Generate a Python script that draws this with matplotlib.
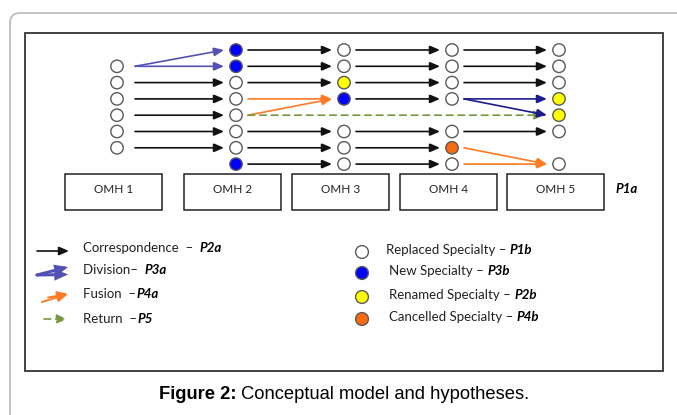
import matplotlib
matplotlib.use('Agg')
import matplotlib.pyplot as plt
from matplotlib.patches import Circle, Rectangle, FancyBboxPatch, FancyArrowPatch

# --- data -------------------------------------------------------------
omh_labels = ['OMH 1', 'OMH 2', 'OMH 3', 'OMH 4', 'OMH 5']

# state of each specialty slot per OMH (row 0 = top), None = empty slot
# R = replaced, N = new, M = renamed, C = cancelled
omh1_nodes = [None, 'R', 'R', 'R', 'R', 'R', 'R', None]
omh2_nodes = ['N', 'N', 'R', 'R', 'R', 'R', 'R', 'N']
omh3_nodes = ['R', 'R', 'M', 'N', None, 'R', 'R', 'R']
omh4_nodes = ['R', 'R', 'R', 'R', None, 'R', 'C', 'R']
omh5_nodes = ['R', 'R', 'R', 'M', 'M', 'R', None, 'R']

# links: (from omh, from row, to omh, to row, kind)
links = [
    (0, 1, 1, 0, 'div'), (0, 1, 1, 1, 'div'),
    (0, 2, 1, 2, 'corr'), (0, 3, 1, 3, 'corr'), (0, 4, 1, 4, 'corr'),
    (0, 5, 1, 5, 'corr'), (0, 6, 1, 6, 'corr'),
    (1, 0, 2, 0, 'corr'), (1, 1, 2, 1, 'corr'), (1, 2, 2, 2, 'corr'),
    (1, 3, 2, 3, 'fus'), (1, 4, 2, 3, 'fus'), (1, 4, 4, 4, 'ret'),
    (1, 5, 2, 5, 'corr'), (1, 6, 2, 6, 'corr'), (1, 7, 2, 7, 'corr'),
    (2, 0, 3, 0, 'corr'), (2, 1, 3, 1, 'corr'), (2, 2, 3, 2, 'corr'),
    (2, 3, 3, 3, 'corr'), (2, 5, 3, 5, 'corr'), (2, 6, 3, 6, 'corr'),
    (2, 7, 3, 7, 'corr'),
    (3, 0, 4, 0, 'corr'), (3, 1, 4, 1, 'corr'), (3, 2, 4, 2, 'corr'),
    (3, 3, 4, 3, 'div2'), (3, 3, 4, 4, 'div2'),
    (3, 5, 4, 5, 'corr'), (3, 6, 4, 7, 'fus'), (3, 7, 4, 7, 'fus'),
]

arrow_legend = ['Correspondence  \u2013  ', 'Division\u2013  ', 'Fusion  \u2013', 'Return  \u2013']
arrow_codes = ['P2a', 'P3a', 'P4a', 'P5']
node_legend = ['Replaced Specialty \u2013 ', 'New Specialty \u2013 ', 'Renamed Specialty \u2013 ',
               'Cancelled Specialty \u2013 ']
node_codes = ['P1b', 'P3b', 'P2b', 'P4b']

# --- style ------------------------------------------------------------
fill = {'R': 'white', 'N': '#0000ff', 'M': '#ffff00', 'C': '#f86a10'}
link_color = {'corr': '#111111', 'div': '#5252b4', 'div2': '#1c1c8c',
              'fus': '#ff7a22', 'ret': '#77963f'}
font = 'Lato'

col_x = [117, 236, 344, 452, 559]
row_y0, row_dy = 50, 16.3

fig = plt.figure(figsize=(6.77, 4.15), dpi=100)
ax = fig.add_axes([0, 0, 1, 1])
ax.set_xlim(0, 677)
ax.set_ylim(415, 0)
ax.axis('off')

# frames
ax.add_patch(FancyBboxPatch((10, 13), 700, 430, boxstyle='round,pad=0,rounding_size=10',
                            fc='none', ec='#b8b8b8', lw=1.2))
ax.add_patch(Rectangle((25, 33), 638, 338, fc='none', ec='#333333', lw=1.3))


def arrow(p, q, color, ls='-', lw=1.2):
    ax.add_patch(FancyArrowPatch(p, q, arrowstyle='-|>,head_length=0.6,head_width=0.26',
                                 mutation_scale=10, color=color, lw=lw, linestyle=ls,
                                 shrinkA=0, shrinkB=0, joinstyle='miter'))


def node(x, y, state, r=6.2):
    ax.add_patch(Circle((x, y), r, fc=fill[state], ec='#5a5a5a', lw=1.0, zorder=3))


all_nodes = [omh1_nodes, omh2_nodes, omh3_nodes, omh4_nodes, omh5_nodes]
for c, col in enumerate(all_nodes):
    for r, s in enumerate(col):
        if s is not None:
            node(col_x[c], row_y0 + r * row_dy, s)

for c0, r0, c1, r1, kind in links:
    gap = 18 if c0 == 0 else 12
    p = (col_x[c0] + gap, row_y0 + r0 * row_dy)
    q = (col_x[c1] - 15 if kind == 'ret' else col_x[c1] - 12, row_y0 + r1 * row_dy)
    arrow(p, q, link_color[kind], ls=(0, (4, 3)) if kind == 'ret' else '-')

# OMH boxes
for c, lab in enumerate(omh_labels):
    ax.add_patch(Rectangle((col_x[c] - 52, 174), 97, 36, fc='white', ec='#222222', lw=1.1))
    ax.text(col_x[c] - 3.5, 189, lab, ha='center', va='center', fontsize=8.5,
            family=font, color='#222222')
ax.text(615, 189, 'P1a', ha='left', va='center', fontsize=9.5, family=font,
        fontweight='bold', style='italic')

# legends
ley = [248, 270, 294, 319]
arrow((37, 251), (69, 251), link_color['corr'])
arrow((37, 275), (68, 267), link_color['div'], lw=2.2)
arrow((37, 275), (68, 274.5), link_color['div'], lw=2.2)
arrow((42, 302), (68, 294), link_color['fus'], lw=1.4)
arrow((48, 297.5), (68, 294), link_color['fus'], lw=1.4)
arrow((44, 319), (67, 319), link_color['ret'], ls=(0, (4, 3)))

for i in range(4):
    t = ax.text(83, ley[i], arrow_legend[i], ha='left', va='center', fontsize=9.5,
                family=font, color='#222222')
    ax.annotate(arrow_codes[i], xy=(1, 0.5), xycoords=t, ha='left', va='center',
                fontsize=9.5, family=font, fontweight='bold', style='italic')

leg_states = ['R', 'N', 'M', 'C']
ny = [252, 273, 297, 319]
for i in range(4):
    node(362, ny[i], leg_states[i], r=6.4)
    t = ax.text(386 if i == 0 else 389, ny[i] - 2, node_legend[i], ha='left', va='center',
                fontsize=9.5, family=font, color='#222222')
    ax.annotate(node_codes[i], xy=(1, 0.5), xycoords=t, ha='left', va='center',
                fontsize=9.5, family=font, fontweight='bold', style='italic')

# caption
t = ax.text(159, 394, 'Figure 2:', ha='left', va='center', fontsize=13.2,
            family='Liberation Sans', fontweight='bold')
ax.annotate(' Conceptual model and hypotheses.', xy=(1, 0.5), xycoords=t, ha='left',
            va='center', fontsize=13.2, family='Liberation Sans')

fig.savefig('out.png', dpi=100)
